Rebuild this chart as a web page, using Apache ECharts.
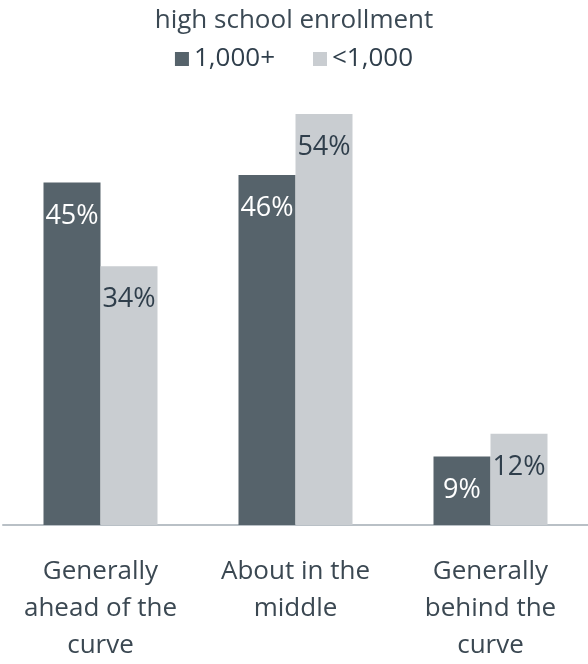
<!DOCTYPE html>
<html><head><meta charset="utf-8">
<script src="https://cdn.jsdelivr.net/npm/echarts@6/dist/echarts.min.js"></script>
<style>html,body{margin:0;padding:0;background:#fff}#c{width:588px;height:664px}</style>
</head><body><div id="c"></div>
<script>
const categories = ['Generally\nahead of the\ncurve', 'About in the\nmiddle', 'Generally\nbehind the\ncurve'];
const seriesNames = ['1,000+', '<1,000'];
const large = [45, 46, 9];
const small = [34, 54, 12];
const titleText = 'high school enrollment';

const chart = echarts.init(document.getElementById('c'));
const font = '"Open Sans", sans-serif';
chart.setOption({
  animation: false,
  title: {text: titleText, left: 'center', top: 3, textStyle: {fontFamily: font, fontWeight: 'normal', fontSize: 26, color: '#3b4954'}},
  legend: {top: 41, left: 'center', itemWidth: 14, itemHeight: 14, itemGap: 38, icon: 'rect',
    textStyle: {fontFamily: font, fontSize: 26, color: '#2f3e4b'}},
  grid: {left: 3, right: 0, top: 114, bottom: 138},
  xAxis: {type: 'category', data: categories,
    axisLine: {lineStyle: {color: '#b9c0c6', width: 2}}, axisTick: {show: false},
    axisLabel: {interval: 0, hideOverlap: false, fontFamily: font, fontSize: 26, color: '#3b4852', lineHeight: 37, margin: 28}},
  yAxis: {type: 'value', min: 0, max: 54, show: false, splitLine: {show: false}},
  series: [
    {name: seriesNames[0], type: 'bar', data: large, barWidth: 57, barGap: '0%',
     itemStyle: {color: '#56636b'},
     label: {show: true, position: 'insideTop', distance: 20, formatter: '{c}%', fontFamily: font, fontSize: 27, color: '#ffffff'}},
    {name: seriesNames[1], type: 'bar', data: small, barWidth: 57,
     itemStyle: {color: '#c9cdd1'},
     label: {show: true, position: 'insideTop', distance: 20, formatter: '{c}%', fontFamily: font, fontSize: 27, color: '#2f3e4b'}}
  ]
});
</script></body></html>
